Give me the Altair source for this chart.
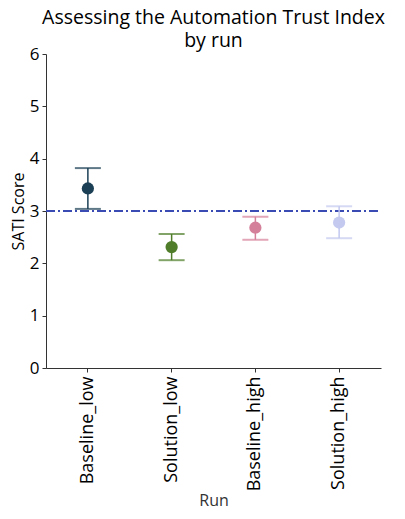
import altair as alt
import pandas as pd

runs = ["Baseline_low", "Solution_low", "Baseline_high", "Solution_high"]
means = [3.43, 2.31, 2.68, 2.78]
lower = [3.04, 2.06, 2.45, 2.48]
upper = [3.82, 2.56, 2.89, 3.09]
colors = ["#1b3f55", "#4f7d29", "#d5809a", "#c3c9ef"]
reference = 3.0

df = pd.DataFrame({"Run": runs, "mean": means, "lo": lower, "hi": upper})
ref_df = pd.DataFrame({"y": [reference]})

W, H = 335, 314
FONT = "Open Sans"

x = alt.X("Run:N", sort=runs, scale=alt.Scale(domain=runs, paddingInner=0, paddingOuter=0),
          axis=alt.Axis(title="Run", labelAngle=-90, labelFontSize=18, titleFontSize=16,
                        titleFontWeight="normal", labelColor="#000", titleColor="#333",
                        domainColor="#333", tickColor="#333", tickSize=4, labelPadding=4,
                        titlePadding=2, labelBaseline="middle", labelAlign="right"))
y = alt.Y("mean:Q", scale=alt.Scale(domain=[0, 6], nice=False),
          axis=alt.Axis(title="SATI Score", values=[0, 1, 2, 3, 4, 5, 6], format="d",
                        grid=False, labelFontSize=17, titleFontSize=16, titleFontWeight="normal",
                        labelColor="#000", titleColor="#000", domainColor="#333",
                        tickColor="#333", tickSize=4, labelPadding=3, titlePadding=3))
color = alt.Color("Run:N", scale=alt.Scale(domain=runs, range=colors), legend=None)

base = alt.Chart(df)

rules = base.mark_rule(strokeWidth=1.5).encode(
    x=x, y=alt.Y("lo:Q", scale=alt.Scale(domain=[0, 6])), y2="hi:Q", color=color)
cap_lo = base.mark_tick(orient="horizontal", size=26, thickness=2).encode(
    x=x, y=alt.Y("lo:Q"), color=color)
cap_hi = base.mark_tick(orient="horizontal", size=26, thickness=2).encode(
    x=x, y=alt.Y("hi:Q"), color=color)
points = base.mark_circle(size=150, opacity=1).encode(x=x, y=y, color=color)

ref = alt.Chart(ref_df).mark_rule(color="#3a4cb3", strokeWidth=2, strokeDash=[9, 3, 2, 3]).encode(
    y=alt.Y("y:Q"), x=alt.value(0), x2=alt.value(W))

chart = alt.layer(ref, rules, cap_lo, cap_hi, points).properties(
    width=W, height=H,
    title=alt.TitleParams(["Assessing the Automation Trust Index", "by run"],
                          fontSize=19.5, fontWeight="normal", color="#000", anchor="middle",
                          offset=-6, lineHeight=23, font=FONT),
    autosize=alt.AutoSizeParams(type="none"),
    padding={"left": 38, "top": 46, "right": 16, "bottom": 143},
).configure(font=FONT).configure_view(strokeWidth=0, stroke="transparent")

chart.save("out.html", embed_options={"renderer": "svg", "actions": False})
